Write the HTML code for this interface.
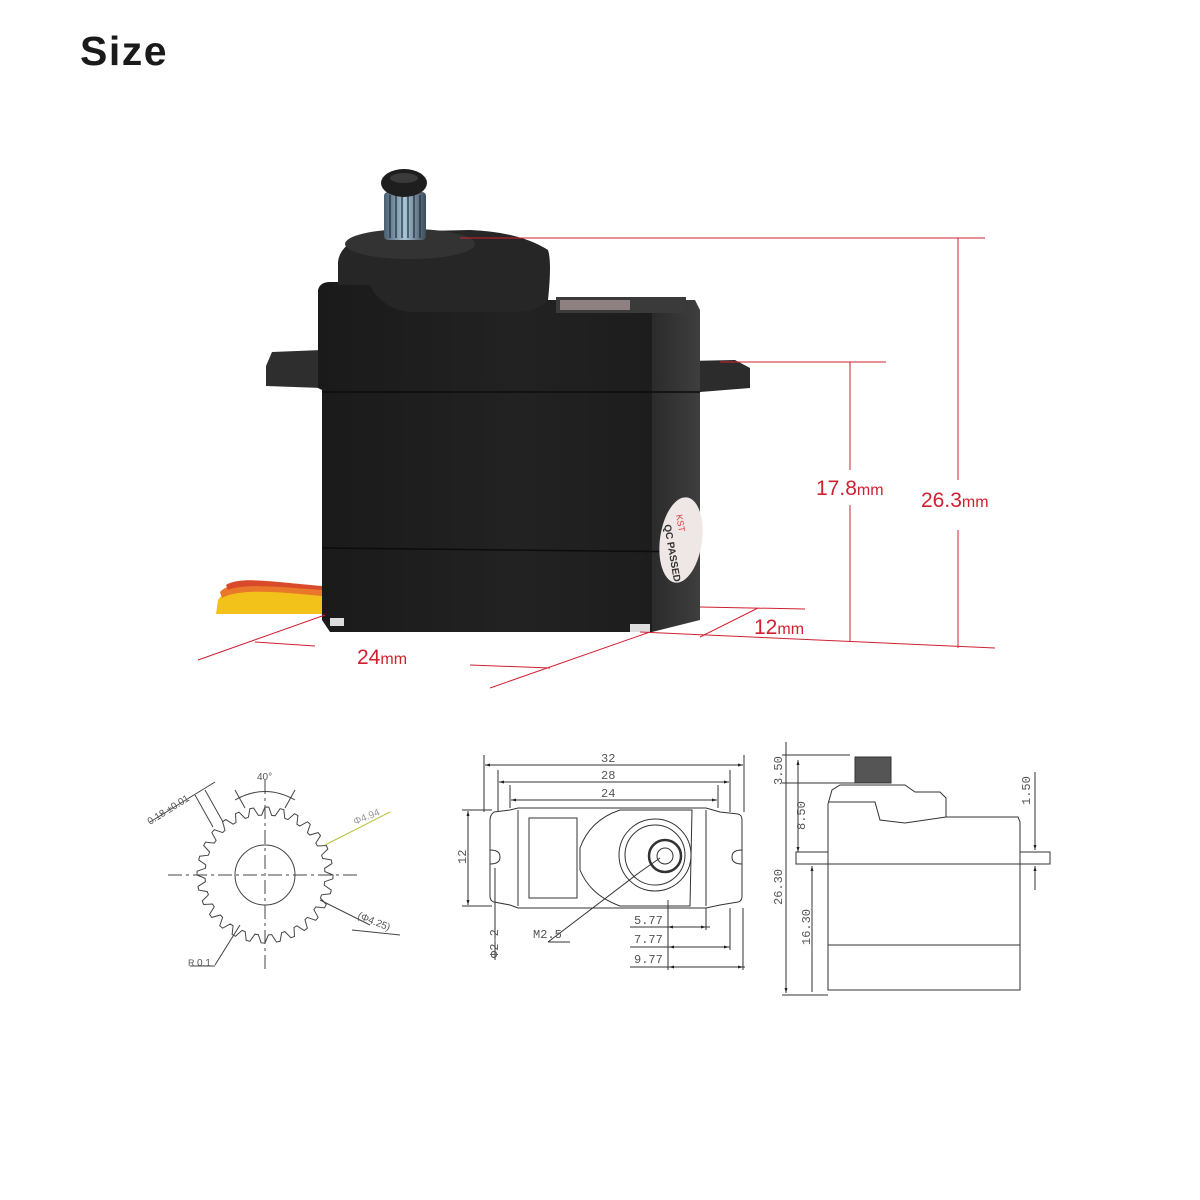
<!DOCTYPE html>
<html><head><meta charset="utf-8"><style>
html,body{margin:0;padding:0;background:#fff;}
body{width:1200px;height:1200px;overflow:hidden;position:relative;}
h1{position:absolute;left:80px;top:28px;margin:0;font:bold 41px "Liberation Sans",sans-serif;color:#1a1a1a;letter-spacing:1.5px;}
svg{position:absolute;left:0;top:0;}
.d text{font-family:"Liberation Sans",sans-serif;}
</style></head><body>
<h1>Size</h1>
<svg width="1200" height="1200" viewBox="0 0 1200 1200">
<defs>
<linearGradient id="body" x1="0" x2="1"><stop offset="0" stop-color="#1a1a1a"/><stop offset="0.6" stop-color="#222"/><stop offset="1" stop-color="#1d1d1d"/></linearGradient>
<linearGradient id="side" x1="0" x2="1"><stop offset="0" stop-color="#2b2b2b"/><stop offset="1" stop-color="#3e3e3e"/></linearGradient>
<linearGradient id="spl" x1="0" x2="1"><stop offset="0" stop-color="#4a6070"/><stop offset="0.5" stop-color="#a8c4d8"/><stop offset="1" stop-color="#3a4a58"/></linearGradient>
<marker id="a" viewBox="0 0 10 10" refX="10" refY="5" markerWidth="7" markerHeight="5" orient="auto-start-reverse"><path d="M0,2 L10,5 L0,8z" fill="#222"/></marker>
</defs>
<!-- wires -->
<path d="M322,592 C270,590 230,582 218,600 L216,614 L322,614 Z" fill="#f2c21a"/>
<path d="M322,588 C272,585 232,578 220,592 L222,598 C240,588 280,592 322,596 Z" fill="#e9782a"/>
<path d="M322,586 C275,582 240,576 226,585 L228,590 C245,583 280,587 322,590 Z" fill="#d94a2a"/>
<!-- flanges -->
<path d="M266,366 L272,352 L322,350 L322,388 L266,386 Z" fill="#2e2e2e"/>
<path d="M640,362 L735,360 L750,368 L750,388 L700,392 L640,392 Z" fill="#2c2c2c"/>
<!-- side face -->
<path d="M652,300 L695,300 L700,310 L700,620 L652,632 Z" fill="url(#side)"/>
<!-- main body -->
<path d="M318,290 Q320,282 330,282 L545,282 L545,300 L652,300 L652,632 L330,632 L322,620 L322,390 L318,388 Z" fill="url(#body)"/>
<line x1="322" y1="392" x2="700" y2="392" stroke="#0c0c0c" stroke-width="1.5"/>
<line x1="322" y1="548" x2="700" y2="552" stroke="#0c0c0c" stroke-width="1.5"/>
<rect x="556" y="297" width="130" height="16" fill="#3a3a3a"/>
<rect x="560" y="300" width="70" height="10" fill="#c8b0b0" opacity="0.6"/>
<!-- top boss -->
<path d="M338,262 Q340,240 380,232 L470,230 Q520,232 548,250 Q552,262 548,300 Q540,310 520,312 L410,312 Q380,308 370,285 L338,285 Z" fill="#262626"/>
<ellipse cx="410" cy="244" rx="65" ry="15" fill="#333"/>
<!-- spline -->
<rect x="384" y="192" width="42" height="48" rx="4" fill="url(#spl)"/>
<g stroke="#1c2a36" stroke-width="1.2">
<line x1="390" y1="195" x2="390" y2="238"/><line x1="396" y1="195" x2="396" y2="238"/><line x1="402" y1="195" x2="402" y2="238"/><line x1="408" y1="195" x2="408" y2="238"/><line x1="414" y1="195" x2="414" y2="238"/><line x1="420" y1="195" x2="420" y2="238"/></g>
<ellipse cx="404" cy="183" rx="23" ry="14" fill="#1e1e1e"/>
<ellipse cx="404" cy="178" rx="14" ry="5" fill="#3a3a3a"/>
<!-- label -->
<ellipse cx="681" cy="540" rx="21" ry="43" transform="rotate(8 681 540)" fill="#efe6e6"/>
<text x="676" y="515" font-family="Liberation Sans" font-size="9" fill="#e04040" transform="rotate(80 676 515)">KST</text>
<text x="664" y="525" font-family="Liberation Sans" font-weight="bold" font-size="10" fill="#333" transform="rotate(80 664 525)">QC PASSED</text>
<rect x="330" y="618" width="14" height="8" fill="#ddd"/><rect x="630" y="624" width="20" height="8" fill="#ddd"/>
<!-- red dimension lines -->
<g stroke="#d02030" stroke-width="1" fill="none">
<line x1="460" y1="238" x2="985" y2="238"/>
<line x1="958" y1="238" x2="958" y2="480"/><line x1="958" y1="530" x2="958" y2="648"/>
<line x1="720" y1="362" x2="886" y2="362"/>
<line x1="850" y1="362" x2="850" y2="470"/><line x1="850" y1="505" x2="850" y2="642"/>
<line x1="640" y1="632" x2="995" y2="648"/>
<line x1="700" y1="607" x2="805" y2="609"/>
<line x1="700" y1="637" x2="758" y2="608"/>
<line x1="198" y1="660" x2="325" y2="615"/>
<line x1="255" y1="642" x2="315" y2="646"/>
<line x1="470" y1="665" x2="550" y2="668"/>
<line x1="490" y1="688" x2="650" y2="632"/>
</g>
<g font-family="Liberation Sans" fill="#d02030">
<text x="816" y="495" font-size="21">17.8<tspan font-size="16">mm</tspan></text>
<text x="921" y="507" font-size="21">26.3<tspan font-size="16">mm</tspan></text>
<text x="754" y="634" font-size="21">12<tspan font-size="16">mm</tspan></text>
<text x="357" y="664" font-size="21">24<tspan font-size="16">mm</tspan></text>
</g>
<!-- gear drawing -->
<g class="d" stroke="#444" fill="none" stroke-width="1">
<circle cx="265" cy="875" r="30"/>
<path id="gear" d=""/>
<line x1="168" y1="875" x2="360" y2="875" stroke-dasharray="14,4,3,4"/>
<line x1="265" y1="780" x2="265" y2="970" stroke-dasharray="14,4,3,4"/>
<path d="M235,800 Q265,783 295,800"/>
<line x1="245" y1="808" x2="235" y2="790"/><line x1="285" y1="808" x2="295" y2="790"/>
<line x1="205" y1="790" x2="223" y2="822"/><line x1="195" y1="795" x2="213" y2="827"/>
<line x1="150" y1="822" x2="215" y2="782"/>
<line x1="325" y1="845" x2="390" y2="812" stroke="#b8c040"/>
<line x1="320" y1="900" x2="370" y2="925"/><line x1="352" y1="930" x2="400" y2="935"/>
<line x1="240" y1="925" x2="215" y2="965"/><line x1="190" y1="966" x2="215" y2="966"/>
</g>
<g font-family="Liberation Sans" font-size="10" fill="#555">
<text x="150" y="825" transform="rotate(-32 150 825)">0.18 ±0.01</text>
<text x="257" y="780">40°</text>
<text x="355" y="825" fill="#999" transform="rotate(-22 355 825)">Φ4.94</text>
<text x="357" y="918" transform="rotate(22 357 918)">(Φ4.25)</text>
<text x="188" y="966" font-size="9">R</text><text x="197" y="966">0.1</text>
</g>
<!-- front view drawing -->
<g stroke="#333" fill="none" stroke-width="1">
<path d="M494,812 L510,810 L518,808 L706,808 L720,812 L738,814 Q742,815 742,820 L742,896 Q742,901 738,902 L720,905 L706,908 L518,908 L510,905 L494,902 Q490,901 490,896 L490,820 Q490,815 494,812Z"/>
<line x1="518" y1="810" x2="518" y2="906"/><line x1="706" y1="810" x2="706" y2="906"/>
<rect x="529" y="818" width="48" height="80"/>
<path d="M620,810 Q590,820 580,848 L580,870 Q590,895 620,906 L690,906 L692,810 Z"/>
<circle cx="655" cy="855" r="36"/><circle cx="655" cy="855" r="30"/>
<circle cx="665" cy="856" r="16" stroke-width="2.5"/><circle cx="665" cy="856" r="8"/>
<path d="M490,850 Q500,850 500,857 Q500,864 490,864"/><path d="M742,850 Q732,850 732,857 Q732,864 742,864"/>
<line x1="484" y1="755" x2="484" y2="812"/><line x1="744" y1="755" x2="744" y2="812"/>
<line x1="498" y1="770" x2="498" y2="812"/><line x1="730" y1="770" x2="730" y2="812"/>
<line x1="510" y1="785" x2="510" y2="808"/><line x1="718" y1="785" x2="718" y2="808"/>
<line x1="485" y1="765" x2="743" y2="765" marker-start="url(#a)" marker-end="url(#a)"/>
<line x1="499" y1="782" x2="729" y2="782" marker-start="url(#a)" marker-end="url(#a)"/>
<line x1="511" y1="800" x2="717" y2="800" marker-start="url(#a)" marker-end="url(#a)"/>
<line x1="462" y1="810" x2="492" y2="810"/><line x1="462" y1="906" x2="492" y2="906"/>
<line x1="468" y1="811" x2="468" y2="905" marker-start="url(#a)" marker-end="url(#a)"/>
<line x1="495" y1="868" x2="495" y2="960"/>
<line x1="640" y1="872" x2="660" y2="858"/><line x1="548" y1="942" x2="640" y2="872"/>
<line x1="570" y1="942" x2="548" y2="942"/>
<line x1="668" y1="900" x2="668" y2="970"/>
<line x1="630" y1="927" x2="710" y2="927"/><line x1="630" y1="947" x2="730" y2="947"/><line x1="630" y1="967" x2="745" y2="967"/>
<line x1="668" y1="927" x2="680" y2="927" marker-start="url(#a)"/><line x1="695" y1="927" x2="706" y2="927" marker-end="url(#a)"/>
<line x1="669" y1="947" x2="729" y2="947" marker-start="url(#a)" marker-end="url(#a)"/>
<line x1="669" y1="967" x2="743" y2="967" marker-start="url(#a)" marker-end="url(#a)"/>
<line x1="706" y1="908" x2="706" y2="930"/><line x1="730" y1="908" x2="730" y2="950"/><line x1="743" y1="908" x2="743" y2="970"/>
</g>
<g font-family="Liberation Mono" font-size="12" fill="#555">
<text x="601" y="762">32</text><text x="601" y="779">28</text><text x="601" y="797">24</text>
<text x="466" y="864" transform="rotate(-90 466 864)">12</text>
<text x="498" y="958" transform="rotate(-90 498 958)">Φ2-2</text>
<text x="533" y="938">M2.5</text>
<text x="634" y="924">5.77</text><text x="634" y="943">7.77</text><text x="634" y="963">9.77</text>
</g>
<!-- side view drawing -->
<g stroke="#333" fill="none" stroke-width="1">
<rect x="855" y="757" width="36" height="26" fill="#555"/>
<path d="M828,804 L832,790 L840,785 L905,785 L915,792 L940,792 L946,798 L946,817 L1018,817 L1020,822 L1020,990 L828,990 Z"/>
<path d="M828,802 L875,802 L880,820 L905,823 L946,817"/>
<rect x="796" y="852" width="32" height="12"/><rect x="1020" y="852" width="30" height="12"/>
<line x1="828" y1="864" x2="1020" y2="864"/><line x1="828" y1="945" x2="1020" y2="945"/>
<line x1="782" y1="755" x2="850" y2="755"/><line x1="782" y1="783" x2="860" y2="783"/>
<line x1="782" y1="995" x2="828" y2="995"/>
<line x1="786" y1="742" x2="786" y2="993" marker-end="url(#a)"/>
<line x1="798" y1="760" x2="798" y2="852" marker-start="url(#a)" marker-end="url(#a)"/>
<line x1="812" y1="866" x2="812" y2="992" marker-start="url(#a)"/>
<line x1="1035" y1="772" x2="1035" y2="850" marker-end="url(#a)"/>
<line x1="1035" y1="890" x2="1035" y2="866" marker-end="url(#a)"/>
</g>
<g font-family="Liberation Mono" font-size="12" fill="#555">
<text x="782" y="785" transform="rotate(-90 782 785)">3.50</text>
<text x="805" y="830" transform="rotate(-90 805 830)">8.50</text>
<text x="782" y="905" transform="rotate(-90 782 905)">26.30</text>
<text x="810" y="945" transform="rotate(-90 810 945)">16.30</text>
<text x="1030" y="805" transform="rotate(-90 1030 805)">1.50</text>
</g>
<script>
(function(){var cx=265,cy=875,n=28,ro=68,ri=60,d="";for(var i=0;i<=n*4;i++){var a=i/(n*4)*2*Math.PI,k=i%4,r=(k==0||k==1)?ro:ri;var x=cx+r*Math.sin(a),y=cy-r*Math.cos(a);d+=(i?"L":"M")+x.toFixed(1)+","+y.toFixed(1);}document.getElementById("gear").setAttribute("d",d);})();
</script>
</svg>
</body></html>
